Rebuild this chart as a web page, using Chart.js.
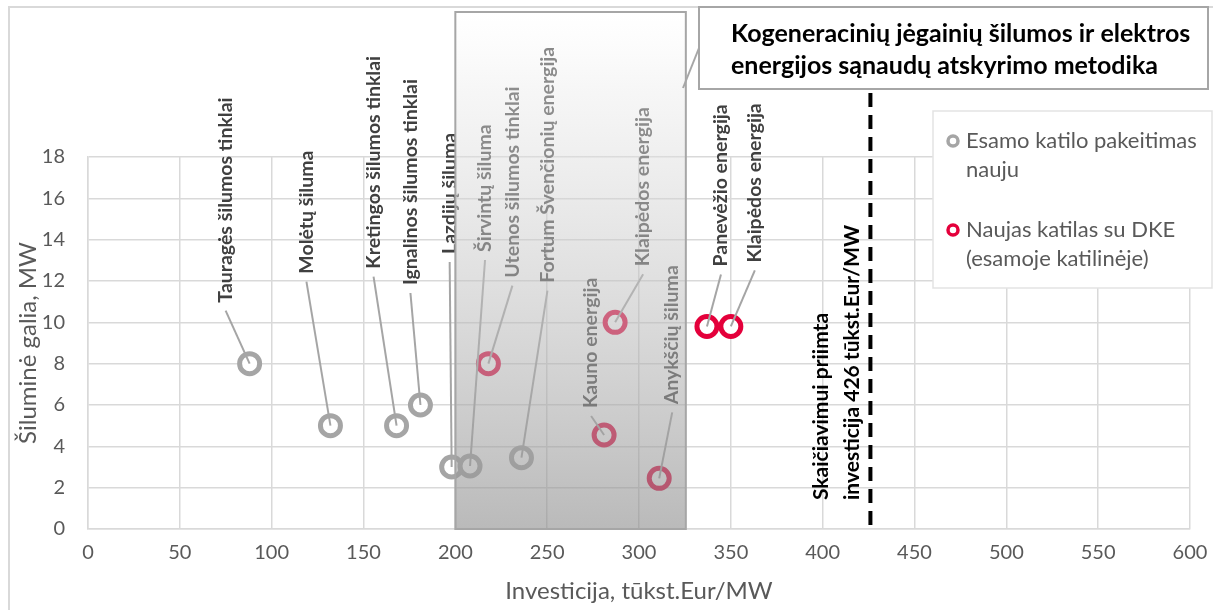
<!DOCTYPE html>
<html lang="lt">
<head>
<meta charset="utf-8">
<script src="https://cdn.jsdelivr.net/npm/chart.js"></script>
<style>
  html, body { margin: 0; padding: 0; background: #fff; }
  #wrap { width: 1213px; height: 610px; }
</style>
</head>
<body>
<div id="wrap"><canvas id="chart" width="1213" height="610"></canvas></div>
<script>
// Esamo katilo pakeitimas nauju
var replaceNames = ['Tauragės šilumos tinklai', 'Molėtų šiluma', 'Kretingos šilumos tinklai',
  'Ignalinos šilumos tinklai', 'Lazdijų šiluma', 'Širvintų šiluma', 'Fortum Švenčionių energija'];
var replaceInvest = [88, 132, 168, 181, 198, 208, 236];
var replacePower = [8, 5, 5, 6, 3, 3.05, 3.45];

// Naujas katilas su DKE (esamoje katilinėje)
var dkeNames = ['Utenos šilumos tinklai', 'Kauno energija', 'Klaipėdos energija',
  'Anykščių šiluma', 'Panevėžio energija', 'Klaipėdos energija'];
var dkeInvest = [218, 281, 287, 311, 337, 350];
var dkePower = [8, 4.55, 10, 2.45, 9.8, 9.8];

var xTicks = [0, 50, 100, 150, 200, 250, 300, 350, 400, 450, 500, 550, 600];
var yTicks = [0, 2, 4, 6, 8, 10, 12, 14, 16, 18];

var acceptedInvestment = 426;
var methodRange = [200, 325.5];

// label placement: offset of the label foot from the marker, px
var replaceLabelPos = [[-24, -61], [-24, -152], [-23, -157], [-10, -120], [-2, -213], [15, -214], [26, -175]];
var dkeLabelPos = [[24, -86], [-13, -27], [28, -56], [13, -74], [14, -60], [24, -64]];

var GRAY = '#a5a5a5';
var RED = '#e4003b';
var TEXT = '#595959';
var FONT = 'Lato, "Open Sans", sans-serif';

function toPoints(xs, ys) {
  return xs.map(function (x, i) { return { x: x, y: ys[i] }; });
}

function vText(ctx, text, x, foot, font, color) {
  ctx.save();
  ctx.translate(x, foot);
  ctx.rotate(-Math.PI / 2);
  ctx.textAlign = 'left';
  ctx.textBaseline = 'middle';
  ctx.font = font;
  ctx.fillStyle = color;
  ctx.fillText(text, 0, 0);
  ctx.restore();
}

function ring(ctx, x, y, r, color, w) {
  ctx.beginPath();
  ctx.arc(x, y, r, 0, Math.PI * 2);
  ctx.fillStyle = '#fff';
  ctx.fill();
  ctx.lineWidth = w;
  ctx.strokeStyle = color;
  ctx.stroke();
}

var decor = {
  id: 'decor',
  beforeDraw: function (chart) {
    var ctx = chart.ctx;
    ctx.save();
    ctx.fillStyle = '#fff';
    ctx.fillRect(0, 0, chart.width, chart.height);
    ctx.strokeStyle = '#d9d9d9';
    ctx.lineWidth = 2;
    ctx.strokeRect(9, 7, chart.width, chart.height);
    ctx.restore();
  },
  afterDatasetsDraw: function (chart) {
    var ctx = chart.ctx;
    var area = chart.chartArea;
    var xs = chart.scales.x;
    var names = [replaceNames, dkeNames];
    var pos = [replaceLabelPos, dkeLabelPos];

    // data labels with leader lines
    ctx.save();
    chart.data.datasets.forEach(function (ds, di) {
      chart.getDatasetMeta(di).data.forEach(function (pt, i) {
        var lx = pt.x + pos[di][i][0];
        var foot = pt.y + pos[di][i][1];
        ctx.beginPath();
        ctx.moveTo(lx, foot + 8);
        ctx.lineTo(pt.x, pt.y);
        ctx.strokeStyle = GRAY;
        ctx.lineWidth = 2;
        ctx.stroke();
        vText(ctx, names[di][i], lx, foot, 'bold 19.5px ' + FONT, '#404040');
      });
    });

    // shaded range of the method
    var x0 = xs.getPixelForValue(methodRange[0]);
    var x1 = xs.getPixelForValue(methodRange[1]);
    var top = 12;
    var g = ctx.createLinearGradient(0, top, 0, area.bottom);
    g.addColorStop(0, 'rgba(255,255,255,0.35)');
    g.addColorStop(0.15, 'rgba(236,236,236,0.45)');
    g.addColorStop(1, 'rgba(140,140,140,0.6)');
    ctx.fillStyle = g;
    ctx.fillRect(x0, top, x1 - x0, area.bottom - top);
    ctx.strokeStyle = '#a6a6a6';
    ctx.lineWidth = 2;
    ctx.strokeRect(x0, top, x1 - x0, area.bottom - top);
    ctx.restore();
  },
  afterDraw: function (chart) {
    var ctx = chart.ctx;
    var area = chart.chartArea;
    var xs = chart.scales.x;
    ctx.save();

    // accepted investment line
    var lx = xs.getPixelForValue(acceptedInvestment);
    ctx.beginPath();
    ctx.moveTo(lx, 93);
    ctx.lineTo(lx, area.bottom);
    ctx.setLineDash([14, 8]);
    ctx.strokeStyle = '#000';
    ctx.lineWidth = 4;
    ctx.stroke();
    ctx.setLineDash([]);
    vText(ctx, 'Skaičiavimui priimta', lx - 49, area.bottom - 29, 'bold 21px ' + FONT, '#000');
    vText(ctx, 'investicija ' + acceptedInvestment + ' tūkst.Eur/MW', lx - 18, area.bottom - 29, 'bold 21px ' + FONT, '#000');

    // callout
    ctx.beginPath();
    ctx.moveTo(699, 48);
    ctx.lineTo(683, 88);
    ctx.strokeStyle = '#a6a6a6';
    ctx.lineWidth = 2;
    ctx.stroke();
    ctx.fillStyle = '#fff';
    ctx.fillRect(699, 7, 509, 82);
    ctx.strokeRect(699, 7, 509, 82);
    ctx.fillStyle = '#000';
    ctx.font = 'bold 25px ' + FONT;
    ctx.textAlign = 'left';
    ctx.textBaseline = 'middle';
    ctx.fillText('Kogeneracinių jėgainių šilumos ir elektros', 731, 34);
    ctx.fillText('energijos sąnaudų atskyrimo metodika', 731, 66);

    // legend
    ctx.fillStyle = '#fff';
    ctx.fillRect(933, 111, 279, 177);
    ctx.strokeStyle = '#e3e3e3';
    ctx.lineWidth = 1.5;
    ctx.strokeRect(933, 111, 279, 177);
    var items = [
      { color: GRAY, lines: ['Esamo katilo pakeitimas', 'nauju'], y: 141 },
      { color: RED, lines: ['Naujas katilas su DKE', '(esamoje katilinėje)'], y: 230 }
    ];
    ctx.font = '22px ' + FONT;
    items.forEach(function (it) {
      ring(ctx, 953, it.y, 5, it.color, 3.5);
      ctx.fillStyle = TEXT;
      it.lines.forEach(function (t, k) {
        ctx.fillText(t, 966, it.y + k * 29);
      });
    });
    ctx.restore();
  }
};

var pointStyle = {
  pointStyle: 'circle',
  pointRadius: 10,
  pointHoverRadius: 10,
  pointBorderWidth: 5,
  pointHoverBorderWidth: 5,
  pointBackgroundColor: '#fff',
  showLine: false
};

new Chart(document.getElementById('chart'), {
  type: 'scatter',
  data: {
    datasets: [
      Object.assign({
        label: 'Esamo katilo pakeitimas nauju',
        data: toPoints(replaceInvest, replacePower),
        borderColor: GRAY,
        pointBorderColor: GRAY
      }, pointStyle),
      Object.assign({
        label: 'Naujas katilas su DKE (esamoje katilinėje)',
        data: toPoints(dkeInvest, dkePower),
        borderColor: RED,
        pointBorderColor: RED
      }, pointStyle)
    ]
  },
  options: {
    responsive: false,
    animation: false,
    layout: { padding: { top: 157, right: 23, bottom: 0, left: 0 } },
    plugins: {
      legend: { display: false },
      tooltip: { enabled: false }
    },
    scales: {
      x: {
        type: 'linear',
        min: 0,
        max: 600,
        afterBuildTicks: function (s) { s.ticks = xTicks.map(function (v) { return { value: v }; }); },
        afterFit: function (s) {
          s.height = 81;
          s.paddingLeft = 0;
          s.paddingRight = 0;
        },
        grid: { color: '#d9d9d9', lineWidth: 1.5, drawTicks: false },
        border: { color: '#d9d9d9', width: 1.5 },
        ticks: { padding: 12, color: TEXT, font: { family: FONT, size: 20 }, maxRotation: 0 },
        title: {
          display: true,
          text: 'Investicija, tūkst.Eur/MW',
          color: TEXT,
          font: { family: FONT, size: 24 },
          padding: { top: 0, bottom: 4 }
        }
      },
      y: {
        type: 'linear',
        min: 0,
        max: 18,
        afterBuildTicks: function (s) { s.ticks = yTicks.map(function (v) { return { value: v }; }); },
        afterFit: function (s) { s.width = 88; },
        grid: { color: '#d9d9d9', lineWidth: 1.5, drawTicks: false },
        border: { color: '#d9d9d9', width: 1.5 },
        ticks: { padding: 23, color: TEXT, font: { family: FONT, size: 20 } },
        title: {
          display: true,
          text: 'Šiluminė galia, MW',
          color: TEXT,
          font: { family: FONT, size: 24 },
          padding: { top: 14, bottom: 0 }
        }
      }
    }
  },
  plugins: [decor]
});
</script>
</body>
</html>
